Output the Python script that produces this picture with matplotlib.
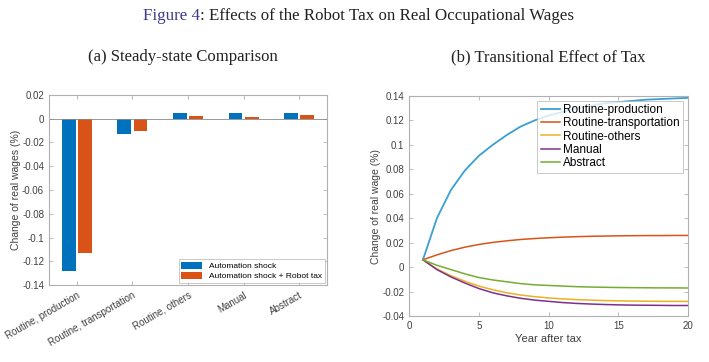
import matplotlib.pyplot as plt
import numpy as np

# data
categories = ["Routine, production", "Routine, transportation", "Routine, others",
              "Manual", "Abstract"]
automation_shock = [-0.128, -0.013, 0.005, 0.005, 0.005]
shock_plus_tax = [-0.113, -0.010, 0.002, 0.0015, 0.003]

years = list(range(1, 21))
routine_production = [0.006, 0.040, 0.063, 0.079, 0.091, 0.100, 0.108, 0.115, 0.120, 0.124,
                      0.127, 0.130, 0.132, 0.134, 0.135, 0.136, 0.137, 0.1375, 0.138, 0.1385]
routine_transportation = [0.006, 0.010, 0.0135, 0.0163, 0.0185, 0.0202, 0.0215, 0.0226, 0.0234, 0.024,
                          0.0245, 0.0249, 0.0252, 0.0254, 0.0256, 0.0257, 0.0258, 0.0258, 0.0259, 0.0259]
routine_others = [0.006, -0.0015, -0.007, -0.0115, -0.0155, -0.0185, -0.021, -0.0228, -0.0242, -0.0252,
                  -0.026, -0.0266, -0.027, -0.0274, -0.0276, -0.0278, -0.0279, -0.028, -0.028, -0.0281]
manual = [0.006, -0.002, -0.008, -0.013, -0.0175, -0.021, -0.0235, -0.0255, -0.027, -0.028,
          -0.029, -0.0297, -0.0302, -0.0306, -0.0309, -0.0311, -0.0312, -0.0313, -0.0314, -0.0314]
abstract = [0.006, 0.0015, -0.002, -0.0055, -0.0085, -0.0105, -0.012, -0.0135, -0.0145, -0.015,
            -0.0155, -0.016, -0.0163, -0.0165, -0.0167, -0.0168, -0.0169, -0.017, -0.017, -0.0171]

plt.rcParams['font.family'] = ['Liberation Sans', 'DejaVu Sans']
fig = plt.figure(figsize=(7.09, 3.62), dpi=100)

# titles (serif, like the paper)
fig.text(0.282, 0.955, "Figure 4", color="#3b3b8a", fontsize=12.2,
         family="Liberation Serif", ha="right", va="center")
fig.text(0.282, 0.955, ": Effects of the Robot Tax on Real Occupational Wages", color="#222222",
         fontsize=12.2, family="Liberation Serif", ha="left", va="center")
fig.text(0.258, 0.842, "(a) Steady-state Comparison", fontsize=12,
         family="Liberation Serif", ha="center", va="center", color="#222222")
fig.text(0.773, 0.842, "(b) Transitional Effect of Tax", fontsize=12,
         family="Liberation Serif", ha="center", va="center", color="#222222")

spine_col = "#b0b0b0"
tick_col = "#404040"


def style_axes(ax):
    for s in ax.spines.values():
        s.set_color(spine_col)
        s.set_linewidth(0.8)
    ax.tick_params(direction="in", length=3, width=0.6, color=spine_col,
                   labelsize=7, labelcolor=tick_col, top=True, right=True)


# (a) bars
ax1 = fig.add_axes([49 / 709, 1 - 285 / 362, 278 / 709, 190 / 362])
x = np.arange(1, len(categories) + 1)
w = 0.25
ax1.bar(x - 0.145, automation_shock, w, color="#0072BD", label="Automation shock")
ax1.bar(x + 0.145, shock_plus_tax, w, color="#D95319", label="Automation shock + Robot tax")
ax1.axhline(0, color="#888888", lw=0.6)
ax1.set_xlim(0.5, 5.5)
ax1.set_ylim(-0.14, 0.02)
ax1.set_yticks(np.arange(-0.14, 0.021, 0.02))
ax1.set_yticklabels(["-0.14", "-0.12", "-0.1", "-0.08", "-0.06", "-0.04", "-0.02", "0", "0.02"])
ax1.set_xticks(x)
ax1.set_xticklabels(categories, rotation=30, ha="right", rotation_mode="anchor")
style_axes(ax1)
ax1.set_ylabel("Change of real wages (%)", fontsize=7.5, color=tick_col, labelpad=1)
leg = ax1.legend(loc="lower right", fontsize=6, frameon=True, fancybox=False,
                 borderpad=0.3, handlelength=2.5, handleheight=0.9, borderaxespad=0.3,
                 labelspacing=0.2)
leg.get_frame().set_edgecolor(spine_col)
leg.get_frame().set_linewidth(0.6)

# (b) lines
ax2 = fig.add_axes([409 / 709, 1 - 316 / 362, 279 / 709, 220 / 362])
ax2.plot(years, routine_production, color="#3A9FD2", lw=1.3, label="Routine-production")
ax2.plot(years, routine_transportation, color="#D95319", lw=1.1, label="Routine-transportation")
ax2.plot(years, routine_others, color="#EDB120", lw=1.1, label="Routine-others")
ax2.plot(years, manual, color="#7E2F8E", lw=1.1, label="Manual")
ax2.plot(years, abstract, color="#77AC30", lw=1.1, label="Abstract")
ax2.set_xlim(0, 20)
ax2.set_ylim(-0.04, 0.14)
ax2.set_xticks([0, 5, 10, 15, 20])
ax2.set_yticks(np.arange(-0.04, 0.141, 0.02))
ax2.set_yticklabels(["-0.04", "-0.02", "0", "0.02", "0.04", "0.06", "0.08", "0.1", "0.12", "0.14"])
style_axes(ax2)
ax2.set_xlabel("Year after tax", fontsize=8, color=tick_col, labelpad=2)
ax2.set_ylabel("Change of real wage (%)", fontsize=7.5, color=tick_col, labelpad=1)
leg2 = ax2.legend(loc="upper right", fontsize=8.5, frameon=True, fancybox=False,
                  borderpad=0.3, handlelength=1.6, handletextpad=0.3, borderaxespad=0.4,
                  labelspacing=0.1)
leg2.get_frame().set_edgecolor(spine_col)
leg2.get_frame().set_linewidth(0.6)

fig.savefig("out.png", dpi=100)
